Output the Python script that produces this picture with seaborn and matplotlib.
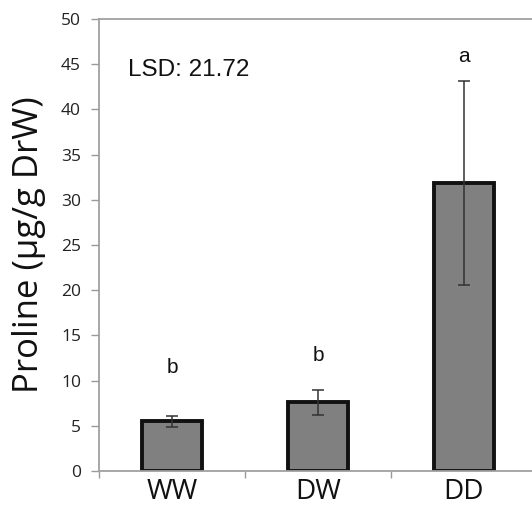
import matplotlib
matplotlib.use("Agg")
import matplotlib.pyplot as plt
import seaborn as sns
import pandas as pd
import numpy as np

categories = ["WW", "DW", "DD"]
proline = [5.5, 7.6, 31.85]
errors = [0.6, 1.4, 11.25]
letters = ["b", "b", "a"]
letter_y = [11.4, 12.8, 45.8]
lsd_text = "LSD: 21.72"
y_ticks = [0, 5, 10, 15, 20, 25, 30, 35, 40, 45, 50]

sns.set_theme(style="white")
plt.rcParams["font.family"] = ["Open Sans", "DejaVu Sans"]

df = pd.DataFrame({"cond": categories, "proline": proline})

fig = plt.figure(figsize=(5.32, 5.09), dpi=100)
ax = fig.add_axes([99 / 532, 38 / 509, 438 / 532, 452 / 509])

sns.barplot(data=df, x="cond", y="proline", order=categories, color="#808080",
            saturation=1, width=0.41, edgecolor="#111111", linewidth=2.8,
            errorbar=None, ax=ax)
ax.errorbar(np.arange(len(categories)), proline, yerr=errors, fmt="none",
            ecolor="#333333", elinewidth=1.1, capsize=4, capthick=1.1, zorder=5)

for i, (t, yy) in enumerate(zip(letters, letter_y)):
    ax.text(i, yy, t, ha="center", va="center", fontsize=15,
            family=["Liberation Sans", "DejaVu Sans"], color="#111111")
ax.text(-0.30, 44.4, lsd_text, ha="left", va="center", fontsize=17.5,
        family=["Liberation Sans", "DejaVu Sans"], color="#111111")

ax.set_xlim(-0.5, 2.5)
ax.set_ylim(0, 50)
ax.set_yticks(y_ticks)
ax.set_yticklabels([str(v) for v in y_ticks], fontsize=12.5, color="#222222")
ax.set_xticks(range(len(categories)))
ax.set_xticklabels(categories, fontsize=20, color="#111111")
ax.set_xticks([-0.5, 0.5, 1.5, 2.5], minor=True)
ax.tick_params(axis="x", which="major", length=0, pad=5)
ax.tick_params(axis="x", which="minor", length=5, width=1, color="#999999", direction="out", bottom=True)
ax.tick_params(axis="y", which="major", length=6, width=1, color="#999999", direction="out", left=True, pad=7)
ax.set_xlabel("")
ax.set_ylabel("Proline (µg/g DrW)", fontsize=25, color="#111111")
ax.yaxis.label.set_va("center")
ax.yaxis.set_label_coords(-0.16, 0.5)

for side in ["left", "bottom", "top"]:
    ax.spines[side].set_visible(True)
    ax.spines[side].set_color("#a0a0a0")
    ax.spines[side].set_linewidth(1.3)
ax.spines["right"].set_visible(False)

fig.savefig("out.png", dpi=100)
